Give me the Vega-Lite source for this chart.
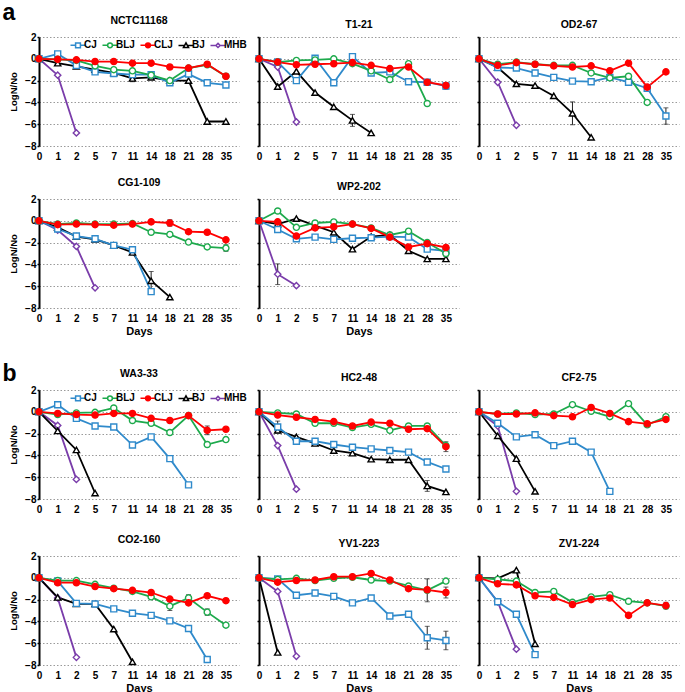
{
"$schema": "https://vega.github.io/schema/vega-lite/v6.json",
"padding": {"left": 2, "top": 1, "right": 2, "bottom": 0},
"background": "white",
"datasets": {"d": [
{"s":"NCTC11168","t":"MHB","d":0,"v":0},{"s":"NCTC11168","t":"MHB","d":1,"v":-1.5},{"s":"NCTC11168","t":"MHB","d":2,"v":-6.8},
{"s":"NCTC11168","t":"BJ","d":0,"v":0},{"s":"NCTC11168","t":"BJ","d":1,"v":-0.4},{"s":"NCTC11168","t":"BJ","d":2,"v":-0.7},{"s":"NCTC11168","t":"BJ","d":5,"v":-1.0},{"s":"NCTC11168","t":"BJ","d":7,"v":-1.3},{"s":"NCTC11168","t":"BJ","d":11,"v":-1.8,"e":0.3},{"s":"NCTC11168","t":"BJ","d":14,"v":-1.7},{"s":"NCTC11168","t":"BJ","d":18,"v":-2.0},{"s":"NCTC11168","t":"BJ","d":21,"v":-2.0},{"s":"NCTC11168","t":"BJ","d":28,"v":-5.75},{"s":"NCTC11168","t":"BJ","d":35,"v":-5.75},
{"s":"NCTC11168","t":"CJ","d":0,"v":0},{"s":"NCTC11168","t":"CJ","d":1,"v":0.45},{"s":"NCTC11168","t":"CJ","d":2,"v":-0.6},{"s":"NCTC11168","t":"CJ","d":5,"v":-1.2},{"s":"NCTC11168","t":"CJ","d":7,"v":-1.35},{"s":"NCTC11168","t":"CJ","d":11,"v":-1.45},{"s":"NCTC11168","t":"CJ","d":14,"v":-1.45},{"s":"NCTC11168","t":"CJ","d":18,"v":-2.2},{"s":"NCTC11168","t":"CJ","d":21,"v":-1.4},{"s":"NCTC11168","t":"CJ","d":28,"v":-2.2},{"s":"NCTC11168","t":"CJ","d":35,"v":-2.4},
{"s":"NCTC11168","t":"BLJ","d":0,"v":0},{"s":"NCTC11168","t":"BLJ","d":1,"v":-0.05},{"s":"NCTC11168","t":"BLJ","d":2,"v":-0.15},{"s":"NCTC11168","t":"BLJ","d":5,"v":-0.65},{"s":"NCTC11168","t":"BLJ","d":7,"v":-1.0},{"s":"NCTC11168","t":"BLJ","d":11,"v":-1.1},{"s":"NCTC11168","t":"BLJ","d":14,"v":-1.5},{"s":"NCTC11168","t":"BLJ","d":18,"v":-2.0,"e":0.15},{"s":"NCTC11168","t":"BLJ","d":21,"v":-0.85},{"s":"NCTC11168","t":"BLJ","d":28,"v":-0.55},{"s":"NCTC11168","t":"BLJ","d":35,"v":-1.6},
{"s":"NCTC11168","t":"CLJ","d":0,"v":0},{"s":"NCTC11168","t":"CLJ","d":1,"v":-0.05},{"s":"NCTC11168","t":"CLJ","d":2,"v":-0.1},{"s":"NCTC11168","t":"CLJ","d":5,"v":-0.25},{"s":"NCTC11168","t":"CLJ","d":7,"v":-0.25},{"s":"NCTC11168","t":"CLJ","d":11,"v":-0.4},{"s":"NCTC11168","t":"CLJ","d":14,"v":-0.4},{"s":"NCTC11168","t":"CLJ","d":18,"v":-0.75},{"s":"NCTC11168","t":"CLJ","d":21,"v":-0.85},{"s":"NCTC11168","t":"CLJ","d":28,"v":-0.5},{"s":"NCTC11168","t":"CLJ","d":35,"v":-1.6,"e":0.2},

{"s":"T1-21","t":"MHB","d":0,"v":0},{"s":"T1-21","t":"MHB","d":1,"v":-0.75},{"s":"T1-21","t":"MHB","d":2,"v":-5.8},
{"s":"T1-21","t":"BJ","d":0,"v":0},{"s":"T1-21","t":"BJ","d":1,"v":-2.55},{"s":"T1-21","t":"BJ","d":2,"v":-1.15},{"s":"T1-21","t":"BJ","d":5,"v":-3.1},{"s":"T1-21","t":"BJ","d":7,"v":-4.4},{"s":"T1-21","t":"BJ","d":11,"v":-5.65,"e":0.55},{"s":"T1-21","t":"BJ","d":14,"v":-6.8},
{"s":"T1-21","t":"CJ","d":0,"v":0},{"s":"T1-21","t":"CJ","d":1,"v":-0.3},{"s":"T1-21","t":"CJ","d":2,"v":-2.0},{"s":"T1-21","t":"CJ","d":5,"v":0.05},{"s":"T1-21","t":"CJ","d":7,"v":-2.2},{"s":"T1-21","t":"CJ","d":11,"v":0.2,"e":0.25},{"s":"T1-21","t":"CJ","d":14,"v":-1.3},{"s":"T1-21","t":"CJ","d":18,"v":-1.2},{"s":"T1-21","t":"CJ","d":21,"v":-2.1},{"s":"T1-21","t":"CJ","d":28,"v":-2.15},{"s":"T1-21","t":"CJ","d":35,"v":-2.5,"e":0.3},
{"s":"T1-21","t":"BLJ","d":0,"v":0},{"s":"T1-21","t":"BLJ","d":1,"v":-0.3},{"s":"T1-21","t":"BLJ","d":2,"v":-0.15},{"s":"T1-21","t":"BLJ","d":5,"v":-0.1},{"s":"T1-21","t":"BLJ","d":7,"v":0},{"s":"T1-21","t":"BLJ","d":11,"v":-0.45},{"s":"T1-21","t":"BLJ","d":14,"v":-1.1},{"s":"T1-21","t":"BLJ","d":18,"v":-1.9},{"s":"T1-21","t":"BLJ","d":21,"v":-0.45,"e":0.2},{"s":"T1-21","t":"BLJ","d":28,"v":-4.1},
{"s":"T1-21","t":"CLJ","d":0,"v":0},{"s":"T1-21","t":"CLJ","d":1,"v":-0.3},{"s":"T1-21","t":"CLJ","d":2,"v":-0.55},{"s":"T1-21","t":"CLJ","d":5,"v":-0.5},{"s":"T1-21","t":"CLJ","d":7,"v":-0.45},{"s":"T1-21","t":"CLJ","d":11,"v":-0.35},{"s":"T1-21","t":"CLJ","d":14,"v":-0.6},{"s":"T1-21","t":"CLJ","d":18,"v":-0.9},{"s":"T1-21","t":"CLJ","d":21,"v":-0.75},{"s":"T1-21","t":"CLJ","d":28,"v":-2.15},{"s":"T1-21","t":"CLJ","d":35,"v":-2.45},

{"s":"OD2-67","t":"MHB","d":0,"v":0},{"s":"OD2-67","t":"MHB","d":1,"v":-2.15},{"s":"OD2-67","t":"MHB","d":2,"v":-6.1},
{"s":"OD2-67","t":"BJ","d":0,"v":0},{"s":"OD2-67","t":"BJ","d":1,"v":-0.8},{"s":"OD2-67","t":"BJ","d":2,"v":-2.3},{"s":"OD2-67","t":"BJ","d":5,"v":-2.45},{"s":"OD2-67","t":"BJ","d":7,"v":-3.4},{"s":"OD2-67","t":"BJ","d":11,"v":-5.0,"e":1.05},{"s":"OD2-67","t":"BJ","d":14,"v":-7.2},
{"s":"OD2-67","t":"CJ","d":0,"v":0},{"s":"OD2-67","t":"CJ","d":1,"v":-0.8},{"s":"OD2-67","t":"CJ","d":2,"v":-0.85},{"s":"OD2-67","t":"CJ","d":5,"v":-1.3},{"s":"OD2-67","t":"CJ","d":7,"v":-1.7},{"s":"OD2-67","t":"CJ","d":11,"v":-2.05},{"s":"OD2-67","t":"CJ","d":14,"v":-2.1},{"s":"OD2-67","t":"CJ","d":18,"v":-1.7},{"s":"OD2-67","t":"CJ","d":21,"v":-2.15},{"s":"OD2-67","t":"CJ","d":28,"v":-2.7},{"s":"OD2-67","t":"CJ","d":35,"v":-5.25,"e":0.75},
{"s":"OD2-67","t":"BLJ","d":0,"v":0},{"s":"OD2-67","t":"BLJ","d":1,"v":-0.5},{"s":"OD2-67","t":"BLJ","d":2,"v":-0.3},{"s":"OD2-67","t":"BLJ","d":5,"v":-0.5},{"s":"OD2-67","t":"BLJ","d":7,"v":-0.6},{"s":"OD2-67","t":"BLJ","d":11,"v":-0.6},{"s":"OD2-67","t":"BLJ","d":14,"v":-1.3},{"s":"OD2-67","t":"BLJ","d":18,"v":-1.75},{"s":"OD2-67","t":"BLJ","d":21,"v":-1.6},{"s":"OD2-67","t":"BLJ","d":28,"v":-4.0},
{"s":"OD2-67","t":"CLJ","d":0,"v":0},{"s":"OD2-67","t":"CLJ","d":1,"v":-0.6},{"s":"OD2-67","t":"CLJ","d":2,"v":-0.35},{"s":"OD2-67","t":"CLJ","d":5,"v":-0.5},{"s":"OD2-67","t":"CLJ","d":7,"v":-0.65},{"s":"OD2-67","t":"CLJ","d":11,"v":-0.75},{"s":"OD2-67","t":"CLJ","d":14,"v":-0.65},{"s":"OD2-67","t":"CLJ","d":18,"v":-1.1},{"s":"OD2-67","t":"CLJ","d":21,"v":-0.4},{"s":"OD2-67","t":"CLJ","d":28,"v":-2.6},{"s":"OD2-67","t":"CLJ","d":35,"v":-1.2},

{"s":"CG1-109","t":"MHB","d":0,"v":0},{"s":"CG1-109","t":"MHB","d":1,"v":-0.85},{"s":"CG1-109","t":"MHB","d":2,"v":-2.35},{"s":"CG1-109","t":"MHB","d":5,"v":-6.15},
{"s":"CG1-109","t":"BJ","d":0,"v":0},{"s":"CG1-109","t":"BJ","d":1,"v":-0.6},{"s":"CG1-109","t":"BJ","d":2,"v":-1.45},{"s":"CG1-109","t":"BJ","d":5,"v":-1.7},{"s":"CG1-109","t":"BJ","d":7,"v":-2.25},{"s":"CG1-109","t":"BJ","d":11,"v":-2.9},{"s":"CG1-109","t":"BJ","d":14,"v":-5.5,"e":0.85},{"s":"CG1-109","t":"BJ","d":18,"v":-7.0},
{"s":"CG1-109","t":"CJ","d":0,"v":0},{"s":"CG1-109","t":"CJ","d":1,"v":-0.75},{"s":"CG1-109","t":"CJ","d":2,"v":-1.4},{"s":"CG1-109","t":"CJ","d":5,"v":-1.65},{"s":"CG1-109","t":"CJ","d":7,"v":-2.25},{"s":"CG1-109","t":"CJ","d":11,"v":-2.65},{"s":"CG1-109","t":"CJ","d":14,"v":-6.5},
{"s":"CG1-109","t":"BLJ","d":0,"v":0},{"s":"CG1-109","t":"BLJ","d":1,"v":-0.3},{"s":"CG1-109","t":"BLJ","d":2,"v":-0.2},{"s":"CG1-109","t":"BLJ","d":5,"v":-0.3},{"s":"CG1-109","t":"BLJ","d":7,"v":-0.3},{"s":"CG1-109","t":"BLJ","d":11,"v":-0.25},{"s":"CG1-109","t":"BLJ","d":14,"v":-1.05},{"s":"CG1-109","t":"BLJ","d":18,"v":-1.25},{"s":"CG1-109","t":"BLJ","d":21,"v":-1.95},{"s":"CG1-109","t":"BLJ","d":28,"v":-2.4},{"s":"CG1-109","t":"BLJ","d":35,"v":-2.5,"e":0.3},
{"s":"CG1-109","t":"CLJ","d":0,"v":0},{"s":"CG1-109","t":"CLJ","d":1,"v":-0.35},{"s":"CG1-109","t":"CLJ","d":2,"v":-0.3},{"s":"CG1-109","t":"CLJ","d":5,"v":-0.35},{"s":"CG1-109","t":"CLJ","d":7,"v":-0.4},{"s":"CG1-109","t":"CLJ","d":11,"v":-0.3},{"s":"CG1-109","t":"CLJ","d":14,"v":-0.1},{"s":"CG1-109","t":"CLJ","d":18,"v":-0.2,"e":0.3},{"s":"CG1-109","t":"CLJ","d":21,"v":-1.0},{"s":"CG1-109","t":"CLJ","d":28,"v":-1.05},{"s":"CG1-109","t":"CLJ","d":35,"v":-1.75},

{"s":"WP2-202","t":"MHB","d":0,"v":0},{"s":"WP2-202","t":"MHB","d":1,"v":-4.9,"e":0.95},{"s":"WP2-202","t":"MHB","d":2,"v":-5.95},
{"s":"WP2-202","t":"BJ","d":0,"v":0},{"s":"WP2-202","t":"BJ","d":1,"v":-0.3},{"s":"WP2-202","t":"BJ","d":2,"v":0.2},{"s":"WP2-202","t":"BJ","d":5,"v":-0.45},{"s":"WP2-202","t":"BJ","d":7,"v":-1.05},{"s":"WP2-202","t":"BJ","d":11,"v":-2.6},{"s":"WP2-202","t":"BJ","d":14,"v":-1.45},{"s":"WP2-202","t":"BJ","d":18,"v":-1.3,"e":0.25},{"s":"WP2-202","t":"BJ","d":21,"v":-2.75},{"s":"WP2-202","t":"BJ","d":28,"v":-3.5},{"s":"WP2-202","t":"BJ","d":35,"v":-3.5,"e":0.2},
{"s":"WP2-202","t":"CJ","d":0,"v":0},{"s":"WP2-202","t":"CJ","d":1,"v":-0.8},{"s":"WP2-202","t":"CJ","d":2,"v":-1.65},{"s":"WP2-202","t":"CJ","d":5,"v":-1.5},{"s":"WP2-202","t":"CJ","d":7,"v":-1.7},{"s":"WP2-202","t":"CJ","d":11,"v":-1.6},{"s":"WP2-202","t":"CJ","d":14,"v":-1.55},{"s":"WP2-202","t":"CJ","d":18,"v":-1.45},{"s":"WP2-202","t":"CJ","d":21,"v":-1.5},{"s":"WP2-202","t":"CJ","d":28,"v":-2.6},{"s":"WP2-202","t":"CJ","d":35,"v":-2.75},
{"s":"WP2-202","t":"BLJ","d":0,"v":0},{"s":"WP2-202","t":"BLJ","d":1,"v":0.9},{"s":"WP2-202","t":"BLJ","d":2,"v":-0.6},{"s":"WP2-202","t":"BLJ","d":5,"v":-0.2},{"s":"WP2-202","t":"BLJ","d":7,"v":-0.1},{"s":"WP2-202","t":"BLJ","d":11,"v":-0.3},{"s":"WP2-202","t":"BLJ","d":14,"v":-0.65},{"s":"WP2-202","t":"BLJ","d":18,"v":-1.3},{"s":"WP2-202","t":"BLJ","d":21,"v":-0.95},{"s":"WP2-202","t":"BLJ","d":28,"v":-2.0,"e":0.2},{"s":"WP2-202","t":"BLJ","d":35,"v":-3.0},
{"s":"WP2-202","t":"CLJ","d":0,"v":0},{"s":"WP2-202","t":"CLJ","d":1,"v":-0.1},{"s":"WP2-202","t":"CLJ","d":2,"v":-1.4},{"s":"WP2-202","t":"CLJ","d":5,"v":-0.65},{"s":"WP2-202","t":"CLJ","d":7,"v":-0.55},{"s":"WP2-202","t":"CLJ","d":11,"v":-0.3},{"s":"WP2-202","t":"CLJ","d":14,"v":-0.7},{"s":"WP2-202","t":"CLJ","d":18,"v":-1.5},{"s":"WP2-202","t":"CLJ","d":21,"v":-2.4},{"s":"WP2-202","t":"CLJ","d":28,"v":-2.1},{"s":"WP2-202","t":"CLJ","d":35,"v":-2.45},

{"s":"WA3-33","t":"MHB","d":0,"v":0},{"s":"WA3-33","t":"MHB","d":1,"v":-1.25},{"s":"WA3-33","t":"MHB","d":2,"v":-6.2},
{"s":"WA3-33","t":"BJ","d":0,"v":0},{"s":"WA3-33","t":"BJ","d":1,"v":-1.75},{"s":"WA3-33","t":"BJ","d":2,"v":-3.5},{"s":"WA3-33","t":"BJ","d":5,"v":-7.45},
{"s":"WA3-33","t":"CJ","d":0,"v":0},{"s":"WA3-33","t":"CJ","d":1,"v":0.65},{"s":"WA3-33","t":"CJ","d":2,"v":-0.6},{"s":"WA3-33","t":"CJ","d":5,"v":-1.3},{"s":"WA3-33","t":"CJ","d":7,"v":-1.4},{"s":"WA3-33","t":"CJ","d":11,"v":-3.05},{"s":"WA3-33","t":"CJ","d":14,"v":-2.3},{"s":"WA3-33","t":"CJ","d":18,"v":-4.3},{"s":"WA3-33","t":"CJ","d":21,"v":-6.7},
{"s":"WA3-33","t":"BLJ","d":0,"v":0},{"s":"WA3-33","t":"BLJ","d":1,"v":-0.25},{"s":"WA3-33","t":"BLJ","d":2,"v":-0.1},{"s":"WA3-33","t":"BLJ","d":5,"v":-0.05},{"s":"WA3-33","t":"BLJ","d":7,"v":0.35},{"s":"WA3-33","t":"BLJ","d":11,"v":-0.8},{"s":"WA3-33","t":"BLJ","d":14,"v":-1.05},{"s":"WA3-33","t":"BLJ","d":18,"v":-1.9},{"s":"WA3-33","t":"BLJ","d":21,"v":-0.35},{"s":"WA3-33","t":"BLJ","d":28,"v":-3.0},{"s":"WA3-33","t":"BLJ","d":35,"v":-2.55,"e":0.15},
{"s":"WA3-33","t":"CLJ","d":0,"v":0},{"s":"WA3-33","t":"CLJ","d":1,"v":-0.15},{"s":"WA3-33","t":"CLJ","d":2,"v":-0.25},{"s":"WA3-33","t":"CLJ","d":5,"v":-0.3},{"s":"WA3-33","t":"CLJ","d":7,"v":-0.15},{"s":"WA3-33","t":"CLJ","d":11,"v":-0.15},{"s":"WA3-33","t":"CLJ","d":14,"v":-0.6},{"s":"WA3-33","t":"CLJ","d":18,"v":-0.8},{"s":"WA3-33","t":"CLJ","d":21,"v":-0.35},{"s":"WA3-33","t":"CLJ","d":28,"v":-1.7,"e":0.4},{"s":"WA3-33","t":"CLJ","d":35,"v":-1.6},

{"s":"HC2-48","t":"MHB","d":0,"v":0},{"s":"HC2-48","t":"MHB","d":1,"v":-3.1},{"s":"HC2-48","t":"MHB","d":2,"v":-7.1},
{"s":"HC2-48","t":"BJ","d":0,"v":0},{"s":"HC2-48","t":"BJ","d":1,"v":-1.7},{"s":"HC2-48","t":"BJ","d":2,"v":-2.3},{"s":"HC2-48","t":"BJ","d":5,"v":-2.9},{"s":"HC2-48","t":"BJ","d":7,"v":-3.55},{"s":"HC2-48","t":"BJ","d":11,"v":-3.8},{"s":"HC2-48","t":"BJ","d":14,"v":-4.35},{"s":"HC2-48","t":"BJ","d":18,"v":-4.4},{"s":"HC2-48","t":"BJ","d":21,"v":-4.4},{"s":"HC2-48","t":"BJ","d":28,"v":-6.8,"e":0.5},{"s":"HC2-48","t":"BJ","d":35,"v":-7.35},
{"s":"HC2-48","t":"CJ","d":0,"v":0},{"s":"HC2-48","t":"CJ","d":1,"v":-1.4,"e":0.55},{"s":"HC2-48","t":"CJ","d":2,"v":-2.7},{"s":"HC2-48","t":"CJ","d":5,"v":-2.7},{"s":"HC2-48","t":"CJ","d":7,"v":-3.0},{"s":"HC2-48","t":"CJ","d":11,"v":-3.25},{"s":"HC2-48","t":"CJ","d":14,"v":-3.4},{"s":"HC2-48","t":"CJ","d":18,"v":-3.55},{"s":"HC2-48","t":"CJ","d":21,"v":-3.7},{"s":"HC2-48","t":"CJ","d":28,"v":-4.6},{"s":"HC2-48","t":"CJ","d":35,"v":-5.25},
{"s":"HC2-48","t":"BLJ","d":0,"v":0},{"s":"HC2-48","t":"BLJ","d":1,"v":-0.1},{"s":"HC2-48","t":"BLJ","d":2,"v":-0.2},{"s":"HC2-48","t":"BLJ","d":5,"v":-1.05},{"s":"HC2-48","t":"BLJ","d":7,"v":-1.05},{"s":"HC2-48","t":"BLJ","d":11,"v":-1.45},{"s":"HC2-48","t":"BLJ","d":14,"v":-1.15},{"s":"HC2-48","t":"BLJ","d":18,"v":-1.7},{"s":"HC2-48","t":"BLJ","d":21,"v":-1.3},{"s":"HC2-48","t":"BLJ","d":28,"v":-1.3},{"s":"HC2-48","t":"BLJ","d":35,"v":-3.1},
{"s":"HC2-48","t":"CLJ","d":0,"v":0},{"s":"HC2-48","t":"CLJ","d":1,"v":-0.3},{"s":"HC2-48","t":"CLJ","d":2,"v":-0.5},{"s":"HC2-48","t":"CLJ","d":5,"v":-0.7},{"s":"HC2-48","t":"CLJ","d":7,"v":-0.9},{"s":"HC2-48","t":"CLJ","d":11,"v":-1.3},{"s":"HC2-48","t":"CLJ","d":14,"v":-0.95},{"s":"HC2-48","t":"CLJ","d":18,"v":-1.05},{"s":"HC2-48","t":"CLJ","d":21,"v":-1.6},{"s":"HC2-48","t":"CLJ","d":28,"v":-1.55},{"s":"HC2-48","t":"CLJ","d":35,"v":-3.2,"e":0.45},

{"s":"CF2-75","t":"MHB","d":0,"v":0},{"s":"CF2-75","t":"MHB","d":1,"v":-1.3},{"s":"CF2-75","t":"MHB","d":2,"v":-7.3},
{"s":"CF2-75","t":"BJ","d":0,"v":0},{"s":"CF2-75","t":"BJ","d":1,"v":-2.2},{"s":"CF2-75","t":"BJ","d":2,"v":-4.3},{"s":"CF2-75","t":"BJ","d":5,"v":-7.3},
{"s":"CF2-75","t":"CJ","d":0,"v":0},{"s":"CF2-75","t":"CJ","d":1,"v":-1.05},{"s":"CF2-75","t":"CJ","d":2,"v":-2.3},{"s":"CF2-75","t":"CJ","d":5,"v":-2.1},{"s":"CF2-75","t":"CJ","d":7,"v":-3.1},{"s":"CF2-75","t":"CJ","d":11,"v":-2.7},{"s":"CF2-75","t":"CJ","d":14,"v":-3.7},{"s":"CF2-75","t":"CJ","d":18,"v":-7.3},
{"s":"CF2-75","t":"BLJ","d":0,"v":0},{"s":"CF2-75","t":"BLJ","d":1,"v":-0.2},{"s":"CF2-75","t":"BLJ","d":2,"v":-0.1},{"s":"CF2-75","t":"BLJ","d":5,"v":-0.25},{"s":"CF2-75","t":"BLJ","d":7,"v":-0.2},{"s":"CF2-75","t":"BLJ","d":11,"v":0.65},{"s":"CF2-75","t":"BLJ","d":14,"v":0.05},{"s":"CF2-75","t":"BLJ","d":18,"v":-0.45},{"s":"CF2-75","t":"BLJ","d":21,"v":0.75},{"s":"CF2-75","t":"BLJ","d":28,"v":-1.2},{"s":"CF2-75","t":"BLJ","d":35,"v":-0.45},
{"s":"CF2-75","t":"CLJ","d":0,"v":0},{"s":"CF2-75","t":"CLJ","d":1,"v":-0.2},{"s":"CF2-75","t":"CLJ","d":2,"v":-0.2},{"s":"CF2-75","t":"CLJ","d":5,"v":-0.1},{"s":"CF2-75","t":"CLJ","d":7,"v":-0.35},{"s":"CF2-75","t":"CLJ","d":11,"v":-0.45},{"s":"CF2-75","t":"CLJ","d":14,"v":0.4},{"s":"CF2-75","t":"CLJ","d":18,"v":-0.15},{"s":"CF2-75","t":"CLJ","d":21,"v":-0.9},{"s":"CF2-75","t":"CLJ","d":28,"v":-1.1},{"s":"CF2-75","t":"CLJ","d":35,"v":-0.7},

{"s":"CO2-160","t":"MHB","d":0,"v":0},{"s":"CO2-160","t":"MHB","d":1,"v":-1.85},{"s":"CO2-160","t":"MHB","d":2,"v":-7.3},
{"s":"CO2-160","t":"BJ","d":0,"v":0},{"s":"CO2-160","t":"BJ","d":1,"v":-1.8},{"s":"CO2-160","t":"BJ","d":2,"v":-2.4},{"s":"CO2-160","t":"BJ","d":5,"v":-2.4},{"s":"CO2-160","t":"BJ","d":7,"v":-4.7},{"s":"CO2-160","t":"BJ","d":11,"v":-7.7},
{"s":"CO2-160","t":"CJ","d":0,"v":0},{"s":"CO2-160","t":"CJ","d":1,"v":-0.3},{"s":"CO2-160","t":"CJ","d":2,"v":-2.35},{"s":"CO2-160","t":"CJ","d":5,"v":-2.4},{"s":"CO2-160","t":"CJ","d":7,"v":-2.85},{"s":"CO2-160","t":"CJ","d":11,"v":-3.25},{"s":"CO2-160","t":"CJ","d":14,"v":-3.45},{"s":"CO2-160","t":"CJ","d":18,"v":-3.95},{"s":"CO2-160","t":"CJ","d":21,"v":-4.65},{"s":"CO2-160","t":"CJ","d":28,"v":-7.5},
{"s":"CO2-160","t":"BLJ","d":0,"v":0},{"s":"CO2-160","t":"BLJ","d":1,"v":-0.25},{"s":"CO2-160","t":"BLJ","d":2,"v":-0.25},{"s":"CO2-160","t":"BLJ","d":5,"v":-0.6},{"s":"CO2-160","t":"BLJ","d":7,"v":-0.95},{"s":"CO2-160","t":"BLJ","d":11,"v":-1.25},{"s":"CO2-160","t":"BLJ","d":14,"v":-1.75},{"s":"CO2-160","t":"BLJ","d":18,"v":-2.6,"e":0.4},{"s":"CO2-160","t":"BLJ","d":21,"v":-1.85,"e":0.3},{"s":"CO2-160","t":"BLJ","d":28,"v":-3.15,"e":0.3},{"s":"CO2-160","t":"BLJ","d":35,"v":-4.35},
{"s":"CO2-160","t":"CLJ","d":0,"v":0},{"s":"CO2-160","t":"CLJ","d":1,"v":-0.45},{"s":"CO2-160","t":"CLJ","d":2,"v":-0.45},{"s":"CO2-160","t":"CLJ","d":5,"v":-0.8},{"s":"CO2-160","t":"CLJ","d":7,"v":-1.0},{"s":"CO2-160","t":"CLJ","d":11,"v":-1.15},{"s":"CO2-160","t":"CLJ","d":14,"v":-1.35},{"s":"CO2-160","t":"CLJ","d":18,"v":-1.95},{"s":"CO2-160","t":"CLJ","d":21,"v":-2.3},{"s":"CO2-160","t":"CLJ","d":28,"v":-1.65},{"s":"CO2-160","t":"CLJ","d":35,"v":-2.1},

{"s":"YV1-223","t":"MHB","d":0,"v":0},{"s":"YV1-223","t":"MHB","d":1,"v":-1.25},{"s":"YV1-223","t":"MHB","d":2,"v":-7.2},
{"s":"YV1-223","t":"BJ","d":0,"v":0},{"s":"YV1-223","t":"BJ","d":1,"v":-6.85},
{"s":"YV1-223","t":"CJ","d":0,"v":0},{"s":"YV1-223","t":"CJ","d":1,"v":-0.1},{"s":"YV1-223","t":"CJ","d":2,"v":-1.6},{"s":"YV1-223","t":"CJ","d":5,"v":-1.4},{"s":"YV1-223","t":"CJ","d":7,"v":-1.7},{"s":"YV1-223","t":"CJ","d":11,"v":-2.3},{"s":"YV1-223","t":"CJ","d":14,"v":-1.85},{"s":"YV1-223","t":"CJ","d":18,"v":-3.5},{"s":"YV1-223","t":"CJ","d":21,"v":-3.35},{"s":"YV1-223","t":"CJ","d":28,"v":-5.5,"e":1.05},{"s":"YV1-223","t":"CJ","d":35,"v":-5.75,"e":0.85},
{"s":"YV1-223","t":"BLJ","d":0,"v":0},{"s":"YV1-223","t":"BLJ","d":1,"v":-0.15},{"s":"YV1-223","t":"BLJ","d":2,"v":-0.05},{"s":"YV1-223","t":"BLJ","d":5,"v":-0.25},{"s":"YV1-223","t":"BLJ","d":7,"v":-0.05},{"s":"YV1-223","t":"BLJ","d":11,"v":0.05},{"s":"YV1-223","t":"BLJ","d":14,"v":-0.2},{"s":"YV1-223","t":"BLJ","d":18,"v":-0.3},{"s":"YV1-223","t":"BLJ","d":21,"v":-0.75},{"s":"YV1-223","t":"BLJ","d":28,"v":-1.15,"e":1.05},{"s":"YV1-223","t":"BLJ","d":35,"v":-0.3},
{"s":"YV1-223","t":"CLJ","d":0,"v":0},{"s":"YV1-223","t":"CLJ","d":1,"v":-0.4},{"s":"YV1-223","t":"CLJ","d":2,"v":-0.25},{"s":"YV1-223","t":"CLJ","d":5,"v":-0.2},{"s":"YV1-223","t":"CLJ","d":7,"v":0.1},{"s":"YV1-223","t":"CLJ","d":11,"v":0.1},{"s":"YV1-223","t":"CLJ","d":14,"v":0.4},{"s":"YV1-223","t":"CLJ","d":18,"v":-0.2},{"s":"YV1-223","t":"CLJ","d":21,"v":-1.0},{"s":"YV1-223","t":"CLJ","d":28,"v":-1.1},{"s":"YV1-223","t":"CLJ","d":35,"v":-1.35,"e":0.5},

{"s":"ZV1-224","t":"MHB","d":0,"v":0},{"s":"ZV1-224","t":"MHB","d":1,"v":-2.2},{"s":"ZV1-224","t":"MHB","d":2,"v":-6.55},
{"s":"ZV1-224","t":"BJ","d":0,"v":0},{"s":"ZV1-224","t":"BJ","d":1,"v":-0.05},{"s":"ZV1-224","t":"BJ","d":2,"v":0.7},{"s":"ZV1-224","t":"BJ","d":5,"v":-6.05},
{"s":"ZV1-224","t":"CJ","d":0,"v":0},{"s":"ZV1-224","t":"CJ","d":1,"v":-2.2},{"s":"ZV1-224","t":"CJ","d":2,"v":-3.35},{"s":"ZV1-224","t":"CJ","d":5,"v":-7.05},
{"s":"ZV1-224","t":"BLJ","d":0,"v":0},{"s":"ZV1-224","t":"BLJ","d":1,"v":-0.15},{"s":"ZV1-224","t":"BLJ","d":2,"v":-0.3},{"s":"ZV1-224","t":"BLJ","d":5,"v":-1.35},{"s":"ZV1-224","t":"BLJ","d":7,"v":-1.25},{"s":"ZV1-224","t":"BLJ","d":11,"v":-2.25},{"s":"ZV1-224","t":"BLJ","d":14,"v":-1.75},{"s":"ZV1-224","t":"BLJ","d":18,"v":-1.55},{"s":"ZV1-224","t":"BLJ","d":21,"v":-2.15},{"s":"ZV1-224","t":"BLJ","d":28,"v":-2.3},{"s":"ZV1-224","t":"BLJ","d":35,"v":-2.6},
{"s":"ZV1-224","t":"CLJ","d":0,"v":0},{"s":"ZV1-224","t":"CLJ","d":1,"v":-0.55},{"s":"ZV1-224","t":"CLJ","d":2,"v":-0.65},{"s":"ZV1-224","t":"CLJ","d":5,"v":-1.65},{"s":"ZV1-224","t":"CLJ","d":7,"v":-1.8},{"s":"ZV1-224","t":"CLJ","d":11,"v":-2.45},{"s":"ZV1-224","t":"CLJ","d":14,"v":-2.0},{"s":"ZV1-224","t":"CLJ","d":18,"v":-1.85},{"s":"ZV1-224","t":"CLJ","d":21,"v":-3.45},{"s":"ZV1-224","t":"CLJ","d":28,"v":-2.3},{"s":"ZV1-224","t":"CLJ","d":35,"v":-2.55,"e":0.3}
]},
"data": {"name": "d"},
"spacing": 26,
"resolve": {"scale": {"color": "independent", "stroke": "independent", "fill": "independent", "shape": "independent", "size": "independent"}},
"vconcat": [
{
"title": {"text": "a", "anchor": "start", "fontSize": 23, "fontWeight": "bold", "frame": "bounds", "offset": -9, "dx": -6},
"spacing": 16,
"resolve": {"scale": {"color": "independent", "stroke": "independent", "fill": "independent", "shape": "independent", "size": "independent"}},
"vconcat": [
{"spacing": 20, "bounds": "flush",
"resolve": {"scale": {"color": "independent", "stroke": "independent", "fill": "independent", "shape": "independent", "size": "independent"}},
"hconcat": [
{"title": "NCTC11168", "width": 200, "height": 109, "transform": [{"filter": "datum.s==='NCTC11168'"}],
"resolve": {"scale": {"shape": "independent", "stroke": "independent", "fill": "independent"}},
"encoding": {"x": {"field": "d", "type": "ordinal", "scale": {"type": "point", "domain": [0,1,2,5,7,11,14,18,21,28,35], "padding": 0.35, "align": 0}, "axis": {"title": null}},
"y": {"field": "v", "type": "quantitative", "scale": {"domain": [-8, 2]}, "axis": {"title": "LogN/No", "values": [-8,-6,-4,-2,0,2]}}},
"layer": [
{"mark": {"type": "line", "strokeWidth": 1.8}, "encoding": {"color": {"field": "t", "type": "nominal", "scale": {"domain": ["CJ","BLJ","CLJ","BJ","MHB"], "range": ["#2F8ACB","#1DAA4C","#FF0000","#000000","#7A3DAA"]}, "legend": null}}},
{"transform": [{"filter": "datum.e>0"}], "mark": {"type": "errorbar", "ticks": true, "size": 5, "color": "#222", "thickness": 1}, "encoding": {"yError": {"field": "e"}}},
{"mark": {"type": "point", "filled": true, "strokeWidth": 1.4, "opacity": 1}, "encoding": {
"shape": {"field": "t", "type": "nominal", "scale": {"domain": ["CJ","BLJ","CLJ","BJ","MHB"], "range": ["square","circle","circle","triangle-up","diamond"]}, "legend": null},
"fill": {"field": "t", "type": "nominal", "scale": {"domain": ["CJ","BLJ","CLJ","BJ","MHB"], "range": ["#ffffff","#ffffff","#FF0000","#ffffff","#ffffff"]}, "legend": null},
"stroke": {"field": "t", "type": "nominal", "scale": {"domain": ["CJ","BLJ","CLJ","BJ","MHB"], "range": ["#2F8ACB","#1DAA4C","#FF0000","#000000","#7A3DAA"]}, "legend": null},
"size": {"field": "t", "type": "nominal", "scale": {"domain": ["CJ","BLJ","CLJ","BJ","MHB"], "range": [36,40,50,30,24]}, "legend": null}}},
{"transform": [{"filter": "false"}], "mark": {"type": "point", "filled": true, "strokeWidth": 1.5, "opacity": 1}, "encoding": {
"shape": {"field": "t", "type": "nominal", "scale": {"domain": ["CJ","BLJ","CLJ","BJ","MHB"], "range": ["M-2.5,0L-0.8,0M0.8,0L2.5,0M-0.8,-0.8L0.8,-0.8L0.8,0.8L-0.8,0.8Z","M-2.5,0L-0.8,0M0.8,0L2.5,0M0.8,0A0.8,0.8,0,1,1,-0.8,0A0.8,0.8,0,1,1,0.8,0Z","M-2.5,0L-0.8,0M0.8,0L2.5,0M0.8,0A0.8,0.8,0,1,1,-0.8,0A0.8,0.8,0,1,1,0.8,0Z","M-2.5,0L-0.5,0M0.5,0L2.5,0M0,-0.85L0.85,0.7L-0.85,0.7Z","M-2.5,0L-0.7,0M0.7,0L2.5,0M0,-0.7L0.7,0L0,0.7L-0.7,0Z"]},
"legend": {"orient": "none", "legendX": 34, "legendY": 3, "direction": "horizontal", "title": null, "padding": 0, "columnPadding": 2, "symbolSize": 36, "symbolStrokeWidth": 1.5, "symbolOffset": 0, "labelOffset": 1, "labelFontSize": 10, "labelFontWeight": "bold", "labelColor": "#000", "labelFont": "Liberation Sans"}},
"stroke": {"field": "t", "type": "nominal", "scale": {"domain": ["CJ","BLJ","CLJ","BJ","MHB"], "range": ["#2F8ACB","#1DAA4C","#FF0000","#000000","#7A3DAA"]},
"legend": {"orient": "none", "legendX": 34, "legendY": 3, "direction": "horizontal", "title": null, "padding": 0, "columnPadding": 2, "symbolSize": 36, "symbolStrokeWidth": 1.5, "symbolOffset": 0, "labelOffset": 1, "labelFontSize": 10, "labelFontWeight": "bold", "labelColor": "#000", "labelFont": "Liberation Sans"}},
"fill": {"field": "t", "type": "nominal", "scale": {"domain": ["CJ","BLJ","CLJ","BJ","MHB"], "range": ["#ffffff","#ffffff","#FF0000","#ffffff","#ffffff"]},
"legend": {"orient": "none", "legendX": 34, "legendY": 3, "direction": "horizontal", "title": null, "padding": 0, "columnPadding": 2, "symbolSize": 36, "symbolStrokeWidth": 1.5, "symbolOffset": 0, "labelOffset": 1, "labelFontSize": 10, "labelFontWeight": "bold", "labelColor": "#000", "labelFont": "Liberation Sans"}}}}
]},
{"title": "T1-21", "width": 200, "height": 109, "transform": [{"filter": "datum.s==='T1-21'"}],
"encoding": {"x": {"field": "d", "type": "ordinal", "scale": {"type": "point", "domain": [0,1,2,5,7,11,14,18,21,28,35], "padding": 0.35, "align": 0}, "axis": {"title": null}},
"y": {"field": "v", "type": "quantitative", "scale": {"domain": [-8, 2]}, "axis": {"title": null, "labels": false, "values": [-8,-6,-4,-2,0,2]}}},
"layer": [
{"mark": {"type": "line", "strokeWidth": 1.8}, "encoding": {"color": {"field": "t", "type": "nominal", "scale": {"domain": ["CJ","BLJ","CLJ","BJ","MHB"], "range": ["#2F8ACB","#1DAA4C","#FF0000","#000000","#7A3DAA"]}, "legend": null}}},
{"transform": [{"filter": "datum.e>0"}], "mark": {"type": "errorbar", "ticks": true, "size": 5, "color": "#222", "thickness": 1}, "encoding": {"yError": {"field": "e"}}},
{"mark": {"type": "point", "filled": true, "strokeWidth": 1.4, "opacity": 1}, "encoding": {
"shape": {"field": "t", "type": "nominal", "scale": {"domain": ["CJ","BLJ","CLJ","BJ","MHB"], "range": ["square","circle","circle","triangle-up","diamond"]}, "legend": null},
"fill": {"field": "t", "type": "nominal", "scale": {"domain": ["CJ","BLJ","CLJ","BJ","MHB"], "range": ["#ffffff","#ffffff","#FF0000","#ffffff","#ffffff"]}, "legend": null},
"stroke": {"field": "t", "type": "nominal", "scale": {"domain": ["CJ","BLJ","CLJ","BJ","MHB"], "range": ["#2F8ACB","#1DAA4C","#FF0000","#000000","#7A3DAA"]}, "legend": null},
"size": {"field": "t", "type": "nominal", "scale": {"domain": ["CJ","BLJ","CLJ","BJ","MHB"], "range": [36,40,50,30,24]}, "legend": null}}}
]},
{"title": "OD2-67", "width": 200, "height": 109, "transform": [{"filter": "datum.s==='OD2-67'"}],
"encoding": {"x": {"field": "d", "type": "ordinal", "scale": {"type": "point", "domain": [0,1,2,5,7,11,14,18,21,28,35], "padding": 0.35, "align": 0}, "axis": {"title": null}},
"y": {"field": "v", "type": "quantitative", "scale": {"domain": [-8, 2]}, "axis": {"title": null, "labels": false, "values": [-8,-6,-4,-2,0,2]}}},
"layer": [
{"mark": {"type": "line", "strokeWidth": 1.8}, "encoding": {"color": {"field": "t", "type": "nominal", "scale": {"domain": ["CJ","BLJ","CLJ","BJ","MHB"], "range": ["#2F8ACB","#1DAA4C","#FF0000","#000000","#7A3DAA"]}, "legend": null}}},
{"transform": [{"filter": "datum.e>0"}], "mark": {"type": "errorbar", "ticks": true, "size": 5, "color": "#222", "thickness": 1}, "encoding": {"yError": {"field": "e"}}},
{"mark": {"type": "point", "filled": true, "strokeWidth": 1.4, "opacity": 1}, "encoding": {
"shape": {"field": "t", "type": "nominal", "scale": {"domain": ["CJ","BLJ","CLJ","BJ","MHB"], "range": ["square","circle","circle","triangle-up","diamond"]}, "legend": null},
"fill": {"field": "t", "type": "nominal", "scale": {"domain": ["CJ","BLJ","CLJ","BJ","MHB"], "range": ["#ffffff","#ffffff","#FF0000","#ffffff","#ffffff"]}, "legend": null},
"stroke": {"field": "t", "type": "nominal", "scale": {"domain": ["CJ","BLJ","CLJ","BJ","MHB"], "range": ["#2F8ACB","#1DAA4C","#FF0000","#000000","#7A3DAA"]}, "legend": null},
"size": {"field": "t", "type": "nominal", "scale": {"domain": ["CJ","BLJ","CLJ","BJ","MHB"], "range": [36,40,50,30,24]}, "legend": null}}}
]}
]},
{"spacing": 20, "bounds": "flush",
"resolve": {"scale": {"color": "independent", "stroke": "independent", "fill": "independent", "shape": "independent", "size": "independent"}},
"hconcat": [
{"title": "CG1-109", "width": 200, "height": 109, "transform": [{"filter": "datum.s==='CG1-109'"}],
"encoding": {"x": {"field": "d", "type": "ordinal", "scale": {"type": "point", "domain": [0,1,2,5,7,11,14,18,21,28,35], "padding": 0.35, "align": 0}, "axis": {"title": "Days"}},
"y": {"field": "v", "type": "quantitative", "scale": {"domain": [-8, 2]}, "axis": {"title": "LogN/No", "values": [-8,-6,-4,-2,0,2]}}},
"layer": [
{"mark": {"type": "line", "strokeWidth": 1.8}, "encoding": {"color": {"field": "t", "type": "nominal", "scale": {"domain": ["CJ","BLJ","CLJ","BJ","MHB"], "range": ["#2F8ACB","#1DAA4C","#FF0000","#000000","#7A3DAA"]}, "legend": null}}},
{"transform": [{"filter": "datum.e>0"}], "mark": {"type": "errorbar", "ticks": true, "size": 5, "color": "#222", "thickness": 1}, "encoding": {"yError": {"field": "e"}}},
{"mark": {"type": "point", "filled": true, "strokeWidth": 1.4, "opacity": 1}, "encoding": {
"shape": {"field": "t", "type": "nominal", "scale": {"domain": ["CJ","BLJ","CLJ","BJ","MHB"], "range": ["square","circle","circle","triangle-up","diamond"]}, "legend": null},
"fill": {"field": "t", "type": "nominal", "scale": {"domain": ["CJ","BLJ","CLJ","BJ","MHB"], "range": ["#ffffff","#ffffff","#FF0000","#ffffff","#ffffff"]}, "legend": null},
"stroke": {"field": "t", "type": "nominal", "scale": {"domain": ["CJ","BLJ","CLJ","BJ","MHB"], "range": ["#2F8ACB","#1DAA4C","#FF0000","#000000","#7A3DAA"]}, "legend": null},
"size": {"field": "t", "type": "nominal", "scale": {"domain": ["CJ","BLJ","CLJ","BJ","MHB"], "range": [36,40,50,30,24]}, "legend": null}}}
]},
{"title": "WP2-202", "width": 200, "height": 109, "transform": [{"filter": "datum.s==='WP2-202'"}],
"encoding": {"x": {"field": "d", "type": "ordinal", "scale": {"type": "point", "domain": [0,1,2,5,7,11,14,18,21,28,35], "padding": 0.35, "align": 0}, "axis": {"title": "Days"}},
"y": {"field": "v", "type": "quantitative", "scale": {"domain": [-8, 2]}, "axis": {"title": null, "labels": false, "values": [-8,-6,-4,-2,0,2]}}},
"layer": [
{"mark": {"type": "line", "strokeWidth": 1.8}, "encoding": {"color": {"field": "t", "type": "nominal", "scale": {"domain": ["CJ","BLJ","CLJ","BJ","MHB"], "range": ["#2F8ACB","#1DAA4C","#FF0000","#000000","#7A3DAA"]}, "legend": null}}},
{"transform": [{"filter": "datum.e>0"}], "mark": {"type": "errorbar", "ticks": true, "size": 5, "color": "#222", "thickness": 1}, "encoding": {"yError": {"field": "e"}}},
{"mark": {"type": "point", "filled": true, "strokeWidth": 1.4, "opacity": 1}, "encoding": {
"shape": {"field": "t", "type": "nominal", "scale": {"domain": ["CJ","BLJ","CLJ","BJ","MHB"], "range": ["square","circle","circle","triangle-up","diamond"]}, "legend": null},
"fill": {"field": "t", "type": "nominal", "scale": {"domain": ["CJ","BLJ","CLJ","BJ","MHB"], "range": ["#ffffff","#ffffff","#FF0000","#ffffff","#ffffff"]}, "legend": null},
"stroke": {"field": "t", "type": "nominal", "scale": {"domain": ["CJ","BLJ","CLJ","BJ","MHB"], "range": ["#2F8ACB","#1DAA4C","#FF0000","#000000","#7A3DAA"]}, "legend": null},
"size": {"field": "t", "type": "nominal", "scale": {"domain": ["CJ","BLJ","CLJ","BJ","MHB"], "range": [36,40,50,30,24]}, "legend": null}}}
]}
]}
]
},
{
"title": {"text": "b", "anchor": "start", "fontSize": 23, "fontWeight": "bold", "frame": "bounds", "offset": -17, "dx": -6},
"spacing": 20,
"resolve": {"scale": {"color": "independent", "stroke": "independent", "fill": "independent", "shape": "independent", "size": "independent"}},
"vconcat": [
{"spacing": 20, "bounds": "flush",
"resolve": {"scale": {"color": "independent", "stroke": "independent", "fill": "independent", "shape": "independent", "size": "independent"}},
"hconcat": [
{"title": "WA3-33", "width": 200, "height": 109, "transform": [{"filter": "datum.s==='WA3-33'"}],
"resolve": {"scale": {"shape": "independent", "stroke": "independent", "fill": "independent"}},
"encoding": {"x": {"field": "d", "type": "ordinal", "scale": {"type": "point", "domain": [0,1,2,5,7,11,14,18,21,28,35], "padding": 0.35, "align": 0}, "axis": {"title": null}},
"y": {"field": "v", "type": "quantitative", "scale": {"domain": [-8, 2]}, "axis": {"title": "LogN/No", "values": [-8,-6,-4,-2,0,2]}}},
"layer": [
{"mark": {"type": "line", "strokeWidth": 1.8}, "encoding": {"color": {"field": "t", "type": "nominal", "scale": {"domain": ["CJ","BLJ","CLJ","BJ","MHB"], "range": ["#2F8ACB","#1DAA4C","#FF0000","#000000","#7A3DAA"]}, "legend": null}}},
{"transform": [{"filter": "datum.e>0"}], "mark": {"type": "errorbar", "ticks": true, "size": 5, "color": "#222", "thickness": 1}, "encoding": {"yError": {"field": "e"}}},
{"mark": {"type": "point", "filled": true, "strokeWidth": 1.4, "opacity": 1}, "encoding": {
"shape": {"field": "t", "type": "nominal", "scale": {"domain": ["CJ","BLJ","CLJ","BJ","MHB"], "range": ["square","circle","circle","triangle-up","diamond"]}, "legend": null},
"fill": {"field": "t", "type": "nominal", "scale": {"domain": ["CJ","BLJ","CLJ","BJ","MHB"], "range": ["#ffffff","#ffffff","#FF0000","#ffffff","#ffffff"]}, "legend": null},
"stroke": {"field": "t", "type": "nominal", "scale": {"domain": ["CJ","BLJ","CLJ","BJ","MHB"], "range": ["#2F8ACB","#1DAA4C","#FF0000","#000000","#7A3DAA"]}, "legend": null},
"size": {"field": "t", "type": "nominal", "scale": {"domain": ["CJ","BLJ","CLJ","BJ","MHB"], "range": [36,40,50,30,24]}, "legend": null}}},
{"transform": [{"filter": "false"}], "mark": {"type": "point", "filled": true, "strokeWidth": 1.5, "opacity": 1}, "encoding": {
"shape": {"field": "t", "type": "nominal", "scale": {"domain": ["CJ","BLJ","CLJ","BJ","MHB"], "range": ["M-2.5,0L-0.8,0M0.8,0L2.5,0M-0.8,-0.8L0.8,-0.8L0.8,0.8L-0.8,0.8Z","M-2.5,0L-0.8,0M0.8,0L2.5,0M0.8,0A0.8,0.8,0,1,1,-0.8,0A0.8,0.8,0,1,1,0.8,0Z","M-2.5,0L-0.8,0M0.8,0L2.5,0M0.8,0A0.8,0.8,0,1,1,-0.8,0A0.8,0.8,0,1,1,0.8,0Z","M-2.5,0L-0.5,0M0.5,0L2.5,0M0,-0.85L0.85,0.7L-0.85,0.7Z","M-2.5,0L-0.7,0M0.7,0L2.5,0M0,-0.7L0.7,0L0,0.7L-0.7,0Z"]},
"legend": {"orient": "none", "legendX": 34, "legendY": 3, "direction": "horizontal", "title": null, "padding": 0, "columnPadding": 2, "symbolSize": 36, "symbolStrokeWidth": 1.5, "symbolOffset": 0, "labelOffset": 1, "labelFontSize": 10, "labelFontWeight": "bold", "labelColor": "#000", "labelFont": "Liberation Sans"}},
"stroke": {"field": "t", "type": "nominal", "scale": {"domain": ["CJ","BLJ","CLJ","BJ","MHB"], "range": ["#2F8ACB","#1DAA4C","#FF0000","#000000","#7A3DAA"]},
"legend": {"orient": "none", "legendX": 34, "legendY": 3, "direction": "horizontal", "title": null, "padding": 0, "columnPadding": 2, "symbolSize": 36, "symbolStrokeWidth": 1.5, "symbolOffset": 0, "labelOffset": 1, "labelFontSize": 10, "labelFontWeight": "bold", "labelColor": "#000", "labelFont": "Liberation Sans"}},
"fill": {"field": "t", "type": "nominal", "scale": {"domain": ["CJ","BLJ","CLJ","BJ","MHB"], "range": ["#ffffff","#ffffff","#FF0000","#ffffff","#ffffff"]},
"legend": {"orient": "none", "legendX": 34, "legendY": 3, "direction": "horizontal", "title": null, "padding": 0, "columnPadding": 2, "symbolSize": 36, "symbolStrokeWidth": 1.5, "symbolOffset": 0, "labelOffset": 1, "labelFontSize": 10, "labelFontWeight": "bold", "labelColor": "#000", "labelFont": "Liberation Sans"}}}}
]},
{"title": "HC2-48", "width": 200, "height": 109, "transform": [{"filter": "datum.s==='HC2-48'"}],
"encoding": {"x": {"field": "d", "type": "ordinal", "scale": {"type": "point", "domain": [0,1,2,5,7,11,14,18,21,28,35], "padding": 0.35, "align": 0}, "axis": {"title": null}},
"y": {"field": "v", "type": "quantitative", "scale": {"domain": [-8, 2]}, "axis": {"title": null, "labels": false, "values": [-8,-6,-4,-2,0,2]}}},
"layer": [
{"mark": {"type": "line", "strokeWidth": 1.8}, "encoding": {"color": {"field": "t", "type": "nominal", "scale": {"domain": ["CJ","BLJ","CLJ","BJ","MHB"], "range": ["#2F8ACB","#1DAA4C","#FF0000","#000000","#7A3DAA"]}, "legend": null}}},
{"transform": [{"filter": "datum.e>0"}], "mark": {"type": "errorbar", "ticks": true, "size": 5, "color": "#222", "thickness": 1}, "encoding": {"yError": {"field": "e"}}},
{"mark": {"type": "point", "filled": true, "strokeWidth": 1.4, "opacity": 1}, "encoding": {
"shape": {"field": "t", "type": "nominal", "scale": {"domain": ["CJ","BLJ","CLJ","BJ","MHB"], "range": ["square","circle","circle","triangle-up","diamond"]}, "legend": null},
"fill": {"field": "t", "type": "nominal", "scale": {"domain": ["CJ","BLJ","CLJ","BJ","MHB"], "range": ["#ffffff","#ffffff","#FF0000","#ffffff","#ffffff"]}, "legend": null},
"stroke": {"field": "t", "type": "nominal", "scale": {"domain": ["CJ","BLJ","CLJ","BJ","MHB"], "range": ["#2F8ACB","#1DAA4C","#FF0000","#000000","#7A3DAA"]}, "legend": null},
"size": {"field": "t", "type": "nominal", "scale": {"domain": ["CJ","BLJ","CLJ","BJ","MHB"], "range": [36,40,50,30,24]}, "legend": null}}}
]},
{"title": "CF2-75", "width": 200, "height": 109, "transform": [{"filter": "datum.s==='CF2-75'"}],
"encoding": {"x": {"field": "d", "type": "ordinal", "scale": {"type": "point", "domain": [0,1,2,5,7,11,14,18,21,28,35], "padding": 0.35, "align": 0}, "axis": {"title": null}},
"y": {"field": "v", "type": "quantitative", "scale": {"domain": [-8, 2]}, "axis": {"title": null, "labels": false, "values": [-8,-6,-4,-2,0,2]}}},
"layer": [
{"mark": {"type": "line", "strokeWidth": 1.8}, "encoding": {"color": {"field": "t", "type": "nominal", "scale": {"domain": ["CJ","BLJ","CLJ","BJ","MHB"], "range": ["#2F8ACB","#1DAA4C","#FF0000","#000000","#7A3DAA"]}, "legend": null}}},
{"transform": [{"filter": "datum.e>0"}], "mark": {"type": "errorbar", "ticks": true, "size": 5, "color": "#222", "thickness": 1}, "encoding": {"yError": {"field": "e"}}},
{"mark": {"type": "point", "filled": true, "strokeWidth": 1.4, "opacity": 1}, "encoding": {
"shape": {"field": "t", "type": "nominal", "scale": {"domain": ["CJ","BLJ","CLJ","BJ","MHB"], "range": ["square","circle","circle","triangle-up","diamond"]}, "legend": null},
"fill": {"field": "t", "type": "nominal", "scale": {"domain": ["CJ","BLJ","CLJ","BJ","MHB"], "range": ["#ffffff","#ffffff","#FF0000","#ffffff","#ffffff"]}, "legend": null},
"stroke": {"field": "t", "type": "nominal", "scale": {"domain": ["CJ","BLJ","CLJ","BJ","MHB"], "range": ["#2F8ACB","#1DAA4C","#FF0000","#000000","#7A3DAA"]}, "legend": null},
"size": {"field": "t", "type": "nominal", "scale": {"domain": ["CJ","BLJ","CLJ","BJ","MHB"], "range": [36,40,50,30,24]}, "legend": null}}}
]}
]},
{"spacing": 20, "bounds": "flush",
"resolve": {"scale": {"color": "independent", "stroke": "independent", "fill": "independent", "shape": "independent", "size": "independent"}},
"hconcat": [
{"title": "CO2-160", "width": 200, "height": 109, "transform": [{"filter": "datum.s==='CO2-160'"}],
"encoding": {"x": {"field": "d", "type": "ordinal", "scale": {"type": "point", "domain": [0,1,2,5,7,11,14,18,21,28,35], "padding": 0.35, "align": 0}, "axis": {"title": "Days"}},
"y": {"field": "v", "type": "quantitative", "scale": {"domain": [-8, 2]}, "axis": {"title": "LogN/No", "values": [-8,-6,-4,-2,0,2]}}},
"layer": [
{"mark": {"type": "line", "strokeWidth": 1.8}, "encoding": {"color": {"field": "t", "type": "nominal", "scale": {"domain": ["CJ","BLJ","CLJ","BJ","MHB"], "range": ["#2F8ACB","#1DAA4C","#FF0000","#000000","#7A3DAA"]}, "legend": null}}},
{"transform": [{"filter": "datum.e>0"}], "mark": {"type": "errorbar", "ticks": true, "size": 5, "color": "#222", "thickness": 1}, "encoding": {"yError": {"field": "e"}}},
{"mark": {"type": "point", "filled": true, "strokeWidth": 1.4, "opacity": 1}, "encoding": {
"shape": {"field": "t", "type": "nominal", "scale": {"domain": ["CJ","BLJ","CLJ","BJ","MHB"], "range": ["square","circle","circle","triangle-up","diamond"]}, "legend": null},
"fill": {"field": "t", "type": "nominal", "scale": {"domain": ["CJ","BLJ","CLJ","BJ","MHB"], "range": ["#ffffff","#ffffff","#FF0000","#ffffff","#ffffff"]}, "legend": null},
"stroke": {"field": "t", "type": "nominal", "scale": {"domain": ["CJ","BLJ","CLJ","BJ","MHB"], "range": ["#2F8ACB","#1DAA4C","#FF0000","#000000","#7A3DAA"]}, "legend": null},
"size": {"field": "t", "type": "nominal", "scale": {"domain": ["CJ","BLJ","CLJ","BJ","MHB"], "range": [36,40,50,30,24]}, "legend": null}}}
]},
{"title": "YV1-223", "width": 200, "height": 109, "transform": [{"filter": "datum.s==='YV1-223'"}],
"encoding": {"x": {"field": "d", "type": "ordinal", "scale": {"type": "point", "domain": [0,1,2,5,7,11,14,18,21,28,35], "padding": 0.35, "align": 0}, "axis": {"title": "Days"}},
"y": {"field": "v", "type": "quantitative", "scale": {"domain": [-8, 2]}, "axis": {"title": null, "labels": false, "values": [-8,-6,-4,-2,0,2]}}},
"layer": [
{"mark": {"type": "line", "strokeWidth": 1.8}, "encoding": {"color": {"field": "t", "type": "nominal", "scale": {"domain": ["CJ","BLJ","CLJ","BJ","MHB"], "range": ["#2F8ACB","#1DAA4C","#FF0000","#000000","#7A3DAA"]}, "legend": null}}},
{"transform": [{"filter": "datum.e>0"}], "mark": {"type": "errorbar", "ticks": true, "size": 5, "color": "#222", "thickness": 1}, "encoding": {"yError": {"field": "e"}}},
{"mark": {"type": "point", "filled": true, "strokeWidth": 1.4, "opacity": 1}, "encoding": {
"shape": {"field": "t", "type": "nominal", "scale": {"domain": ["CJ","BLJ","CLJ","BJ","MHB"], "range": ["square","circle","circle","triangle-up","diamond"]}, "legend": null},
"fill": {"field": "t", "type": "nominal", "scale": {"domain": ["CJ","BLJ","CLJ","BJ","MHB"], "range": ["#ffffff","#ffffff","#FF0000","#ffffff","#ffffff"]}, "legend": null},
"stroke": {"field": "t", "type": "nominal", "scale": {"domain": ["CJ","BLJ","CLJ","BJ","MHB"], "range": ["#2F8ACB","#1DAA4C","#FF0000","#000000","#7A3DAA"]}, "legend": null},
"size": {"field": "t", "type": "nominal", "scale": {"domain": ["CJ","BLJ","CLJ","BJ","MHB"], "range": [36,40,50,30,24]}, "legend": null}}}
]},
{"title": "ZV1-224", "width": 200, "height": 109, "transform": [{"filter": "datum.s==='ZV1-224'"}],
"encoding": {"x": {"field": "d", "type": "ordinal", "scale": {"type": "point", "domain": [0,1,2,5,7,11,14,18,21,28,35], "padding": 0.35, "align": 0}, "axis": {"title": "Days"}},
"y": {"field": "v", "type": "quantitative", "scale": {"domain": [-8, 2]}, "axis": {"title": null, "labels": false, "values": [-8,-6,-4,-2,0,2]}}},
"layer": [
{"mark": {"type": "line", "strokeWidth": 1.8}, "encoding": {"color": {"field": "t", "type": "nominal", "scale": {"domain": ["CJ","BLJ","CLJ","BJ","MHB"], "range": ["#2F8ACB","#1DAA4C","#FF0000","#000000","#7A3DAA"]}, "legend": null}}},
{"transform": [{"filter": "datum.e>0"}], "mark": {"type": "errorbar", "ticks": true, "size": 5, "color": "#222", "thickness": 1}, "encoding": {"yError": {"field": "e"}}},
{"mark": {"type": "point", "filled": true, "strokeWidth": 1.4, "opacity": 1}, "encoding": {
"shape": {"field": "t", "type": "nominal", "scale": {"domain": ["CJ","BLJ","CLJ","BJ","MHB"], "range": ["square","circle","circle","triangle-up","diamond"]}, "legend": null},
"fill": {"field": "t", "type": "nominal", "scale": {"domain": ["CJ","BLJ","CLJ","BJ","MHB"], "range": ["#ffffff","#ffffff","#FF0000","#ffffff","#ffffff"]}, "legend": null},
"stroke": {"field": "t", "type": "nominal", "scale": {"domain": ["CJ","BLJ","CLJ","BJ","MHB"], "range": ["#2F8ACB","#1DAA4C","#FF0000","#000000","#7A3DAA"]}, "legend": null},
"size": {"field": "t", "type": "nominal", "scale": {"domain": ["CJ","BLJ","CLJ","BJ","MHB"], "range": [36,40,50,30,24]}, "legend": null}}}
]}
]}
]
}
],
"config": {
"font": "Liberation Sans",
"view": {"stroke": null},
"axis": {"labelFont": "Liberation Sans", "labelFontWeight": "bold", "labelFontSize": 10, "labelColor": "#000", "titleFont": "Liberation Sans", "titleFontWeight": "bold", "titleFontSize": 11, "titleColor": "#000"},
"axisX": {"domain": false, "ticks": false, "tickSize": 0, "labelPadding": 5, "labelAngle": 0, "grid": false, "titlePadding": 2},
"axisY": {"domainColor": "#000", "domainWidth": 2, "tickColor": "#000", "tickSize": 2, "tickWidth": 1.5, "labelPadding": 1, "gridColor": "#9a9a9a", "gridDash": [1.5, 2], "gridWidth": 1, "titlePadding": 6, "titleFontSize": 9.5},
"title": {"fontSize": 10.5, "fontWeight": "bold", "frame": "group", "offset": 6, "color": "#000", "font": "Liberation Sans"}
}
}
